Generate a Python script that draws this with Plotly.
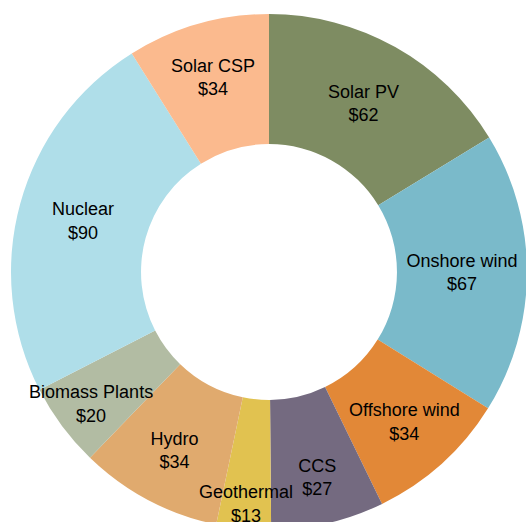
import plotly.graph_objects as go

# levelised cost per technology, clockwise from 12 o'clock
technologies = ['Solar PV', 'Onshore wind', 'Offshore wind', 'CCS', 'Geothermal',
                'Hydro', 'Biomass Plants', 'Nuclear', 'Solar CSP']
costs = [62, 67, 34, 27, 13, 34, 20, 90, 34]
slice_colors = ['#7E8C62', '#7ABACA', '#E28837', '#746A80', '#E1C250',
                '#E0AA6E', '#B2BCA3', '#AFDEE9', '#FBBA8E']

# figure a bit bigger than the window, the ring runs off the right/bottom edge
W, H = 540, 540
cx, cy, r = 269, 272, 258
dom = dict(x=[(cx - r) / W, (cx + r) / W],
           y=[1 - (cy + r) / H, 1 - (cy - r) / H])

common = dict(
    labels=technologies,
    values=costs,
    sort=False,
    direction='clockwise',
    rotation=0,
    hole=0.496,
    showlegend=False,
    domain=dom,
)

fig = go.Figure()
# coloured ring, no text
fig.add_trace(go.Pie(
    marker=dict(colors=slice_colors, line=dict(width=0)),
    textinfo='none',
    hoverinfo='label+value',
    **common,
))
# transparent copy on top carrying the labels, so long labels are not hidden
# under the next slice
fig.add_trace(go.Pie(
    marker=dict(colors=['rgba(0,0,0,0)'] * len(costs), line=dict(width=0)),
    texttemplate='%{label}<br>$%{value}',
    textposition='inside',
    insidetextorientation='horizontal',
    textfont=dict(family='Liberation Sans, Arial, sans-serif', size=18, color='#000000'),
    hoverinfo='skip',
    **common,
))

fig.update_layout(
    width=W,
    height=H,
    margin=dict(l=0, r=0, t=0, b=0),
    paper_bgcolor='white',
    plot_bgcolor='white',
    uniformtext=dict(minsize=18, mode='show'),
)

fig.write_html(
    "out.html",
    config={'displayModeBar': False},
    post_script="document.body.style.margin='0';document.body.style.overflow='hidden';",
)
